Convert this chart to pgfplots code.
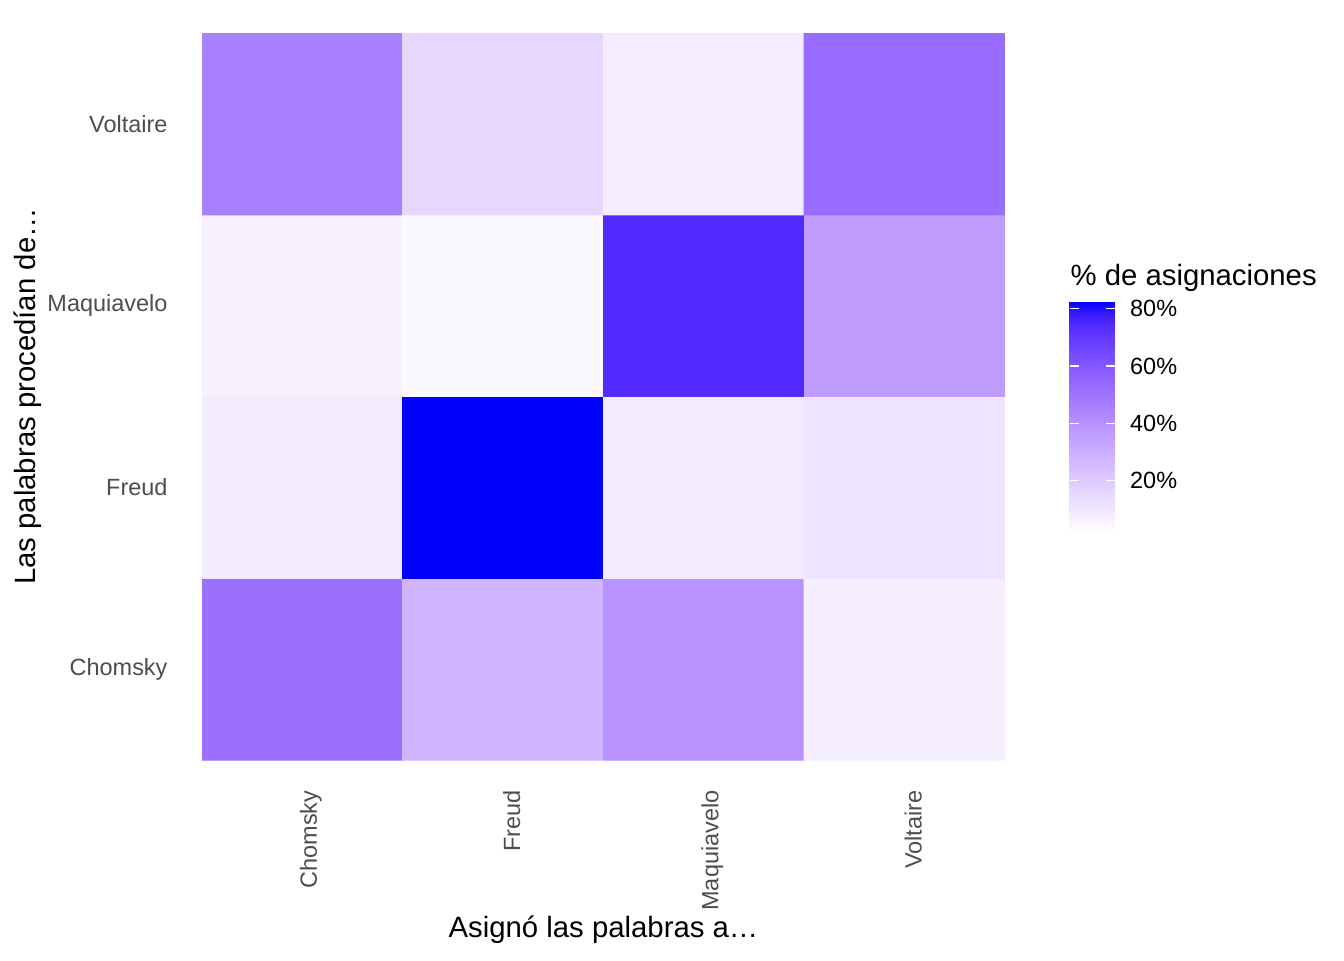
\documentclass[border=0pt]{standalone}
\usepackage{pgfplots}
\pgfplotsset{compat=1.18}
\usepackage{fontspec}
\setmainfont{Liberation Sans}
\definecolor{gtxt}{HTML}{4D4D4D}
\pgfplotsset{
  colormap={gg}{rgb255(0cm)=(255,255,255); rgb255(1cm)=(241,231,255); rgb255(3cm)=(212,185,255); rgb255(5cm)=(179,139,255); rgb255(7cm)=(138,93,255); rgb255(8.5cm)=(98,57,255); rgb255(9cm)=(80,43,255); rgb255(9.5cm)=(56,27,255); rgb255(10cm)=(0,0,255)}
}
\begin{document}
\begin{tikzpicture}[x=1bp,y=1bp]
\path[use as bounding box] (0,0) rectangle (504,360);
\begin{axis}[
  at={(75.75bp,75bp)}, anchor=south west,
  scale only axis, width=301.1bp, height=272.6bp,
  xmin=-0.5, xmax=3.5, ymin=-0.5, ymax=3.5,
  xtick={0,1,2,3}, xticklabels={Chomsky,Freud,Maquiavelo,Voltaire},
  ytick={0,1,2,3}, yticklabels={Chomsky,Freud,Maquiavelo,Voltaire},
  axis line style={draw=none}, major tick length=0pt, tick style={draw=none},
  xticklabel style={xshift=3.2bp, rotate=90, anchor=east, inner sep=0pt, font=\fontsize{8.8bp}{10bp}\selectfont, text=gtxt},
  yticklabel style={anchor=east, inner sep=0pt, font=\fontsize{8.8bp}{10bp}\selectfont, text=gtxt},
  xticklabel shift=11.25bp, yticklabel shift=12.75bp,
  xlabel={Asignó las palabras a…}, ylabel={Las palabras procedían de…},
  label style={font=\fontsize{11bp}{13bp}\selectfont},
  xlabel style={at={(axis description cs:0.5,-0.234)}, anchor=center},
  ylabel style={at={(axis description cs:-0.2167,0.5)}, anchor=center},
  colormap name=gg,
  point meta min=1.85, point meta max=82.4,
  colorbar,
  colorbar/width=16.9bp,
  colorbar style={
    at={(parent axis.south west)}, anchor=south west,
    xshift=316.85bp, yshift=85.3bp,
    scale only axis, width=16.9bp, height=86.5bp,
    axis line style={draw=none},
    ytick={20,40,60,80}, yticklabels={20\%,40\%,60\%,80\%},
    ytick pos=both, yticklabel pos=right,
    tick align=inside, major tick length=3.4bp,
    ytick style={draw=white, line width=0.5bp},
    yticklabel style={inner sep=0pt, anchor=west, font=\fontsize{8.8bp}{10bp}\selectfont, text=black},
    yticklabel shift=5.6bp,
  },
]
\addplot[matrix plot*, point meta=explicit, mesh/cols=4] table[meta=C] {
x y C
0 0 51.6
1 0 27.6
2 0 39.6
3 0 7.6
0 1 8.8
1 1 82.4
2 1 8.8
3 1 10.8
0 2 6.4
1 2 4.0
2 2 74.0
3 2 36.0
0 3 46.0
1 3 15.6
2 3 8.0
3 3 53.0
};
\end{axis}
\node[anchor=base west, inner sep=0pt, font=\fontsize{11bp}{13bp}\selectfont] at (401.25,253.1) {\% de asignaciones};
\end{tikzpicture}
\end{document}
